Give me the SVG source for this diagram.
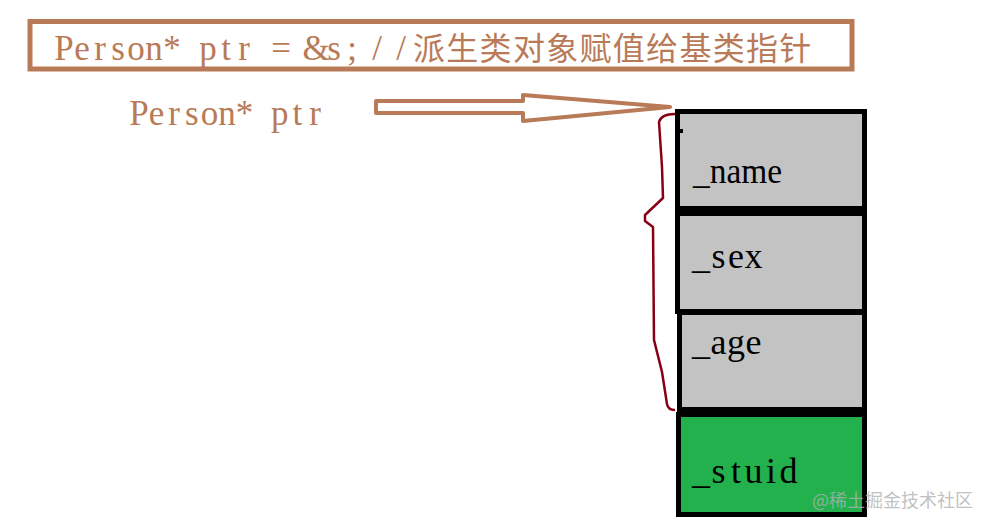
<svg xmlns="http://www.w3.org/2000/svg" width="989" height="528" viewBox="0 0 989 528">
<style>
.lat{font-family:"Liberation Serif","DejaVu Serif",serif;font-size:35px;text-anchor:middle}
.cjk{font-family:"Noto Sans CJK SC",sans-serif;font-size:32px;letter-spacing:1.3px;text-anchor:start}
.brown{fill:#b97a57}
.cell{stroke:#000;stroke-width:5}
.lbl{font-family:"Liberation Serif","DejaVu Serif",serif;font-size:36px;fill:#000;text-anchor:middle}
.lbls{font-family:"Liberation Serif","DejaVu Serif",serif;font-size:36px;fill:#000}
</style>
<rect width="989" height="528" fill="#fff"/>
<g id="title">
<rect x="30" y="21.5" width="822" height="47.5" fill="#fff" stroke="#b97a57" stroke-width="5"/>
<text y="60" class="lat brown" x="64 82 100 118 136 154 172 190 208 226 244 262 281 298 316 334 352 366 377 401">Person* ptr = &amp;s; //</text>
<text x="413" y="60" class="cjk brown">派生类对象赋值给基类指针</text>
</g>
<g id="ptr-label">
<text y="125" class="lat brown" x="139 156.6 174.2 191.8 209.4 227 244.6 262.2 279.8 297.4 315">Person* ptr</text>
</g>
<g id="connectors">
<polygon points="376,101 523,101 523,95 670,107 523,121 523,113 376,113" fill="#fff" stroke="#b97a57" stroke-width="4" stroke-linejoin="round"/>
<path d="M675,114 C668,114 661,115 659,122 L662,167 L663,198 L645,215 L645,221 L653,227 L654,340 L662,372 L667,404 Q668,410 675,410" fill="none" stroke="#880015" stroke-width="2.5" stroke-linejoin="round"/>
</g>
<g id="name">
<rect x="677.5" y="111.5" width="187" height="97" fill="#c3c3c3" class="cell"/>
<rect x="679" y="129" width="4" height="4" fill="#000"/>
<text x="693" y="183" class="lbls" textLength="89" lengthAdjust="spacingAndGlyphs">_name</text>
</g>
<g id="sex">
<rect x="677.5" y="213.5" width="187" height="98" fill="#c3c3c3" class="cell"/>
<text y="268" class="lbl" x="701 718.5 736 753.5">_sex</text>
</g>
<g id="age">
<rect x="679.5" y="312.5" width="185" height="97" fill="#c3c3c3" class="cell"/>
<text y="354" class="lbl" x="701 718.5 736 753.5">_age</text>
</g>
<g id="stuid">
<rect x="678.5" y="414.5" width="186" height="100" fill="#22b14c" class="cell"/>
<text y="483" class="lbl" x="701 718.5 736 753.5 771 788.5">_stuid</text>
</g>
<text x="812" y="507" font-family="Noto Sans CJK SC,sans-serif" font-size="18" fill="#b0b0b0" fill-opacity="0.8">@稀土掘金技术社区</text>
</svg>
